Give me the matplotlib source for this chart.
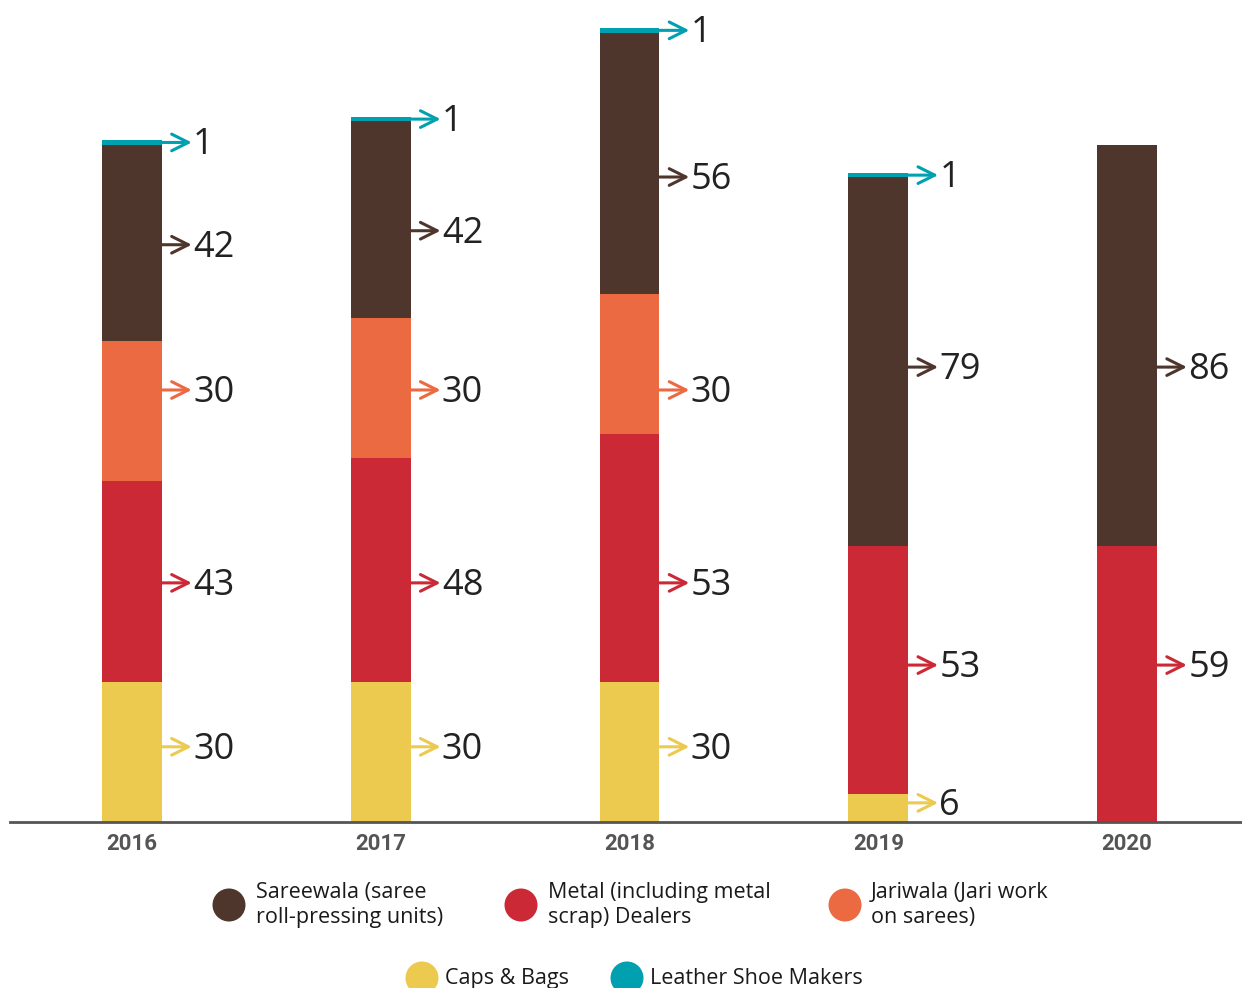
import matplotlib.pyplot as plt
from matplotlib.patches import Circle
import numpy as np

# data
years = ['2016', '2017', '2018', '2019', '2020']
caps = [30, 30, 30, 6, 0]
metal = [43, 48, 53, 53, 59]
jari = [30, 30, 30, 0, 0]
saree = [42, 42, 56, 79, 86]
leather = [1, 1, 1, 1, 0]

# where the value labels sit (data units), the chart lines them up in rows
caps_lab = [16.1, 16.1, 16.1, 4.1, 0]
metal_lab = [51.2, 51.2, 51.2, 33.6, 33.6]
jari_lab = [92.5, 92.5, 92.5, 0, 0]
saree_lab = [123.6, 126.6, 138.1, 97.4, 97.4]

series = [
    ('Caps & Bags', caps, '#ECC94F', caps_lab),
    ('Metal', metal, '#CC2936', metal_lab),
    ('Jariwala', jari, '#EC6A42', jari_lab),
    ('Sareewala', saree, '#4F362C', saree_lab),
    ('Leather Shoe Makers', leather, '#00A0B0', None),
]

fig = plt.figure(figsize=(12.42, 9.88), dpi=100)
ax = fig.add_axes([10 / 1242, 1 - 822 / 988, 1 - 10 / 1242, 822 / 988])

x = np.arange(len(years))
w = 0.241
bottom = np.zeros(len(years))
for name, vals, col, lab in series:
    vals = np.array(vals, dtype=float)
    ax.bar(x, vals, w, bottom=bottom, color=col, linewidth=0)
    for i, v in enumerate(vals):
        if v == 0:
            continue
        y = lab[i] if lab is not None else bottom[i] + v / 2
        x0 = x[i] + w / 2
        ax.annotate('', xy=(x0 + 0.12, y), xytext=(x0, y),
                    arrowprops=dict(arrowstyle='->', color=col, lw=2.2,
                                    mutation_scale=30, shrinkA=0, shrinkB=0))
        ax.text(x0 + 0.125, y - 0.6, str(int(v)), fontsize=26, family='Open Sans',
                color='#222222', va='center', ha='left')
    bottom += vals

ax.set_xlim(-0.49, 4.462)
ax.set_ylim(0, 176)
ax.set_yticks([])
ax.set_xticks(x)
ax.set_xticklabels(years, fontsize=16, family='Roboto', fontweight='bold', color='#555555')
ax.tick_params(axis='x', length=0, pad=8)
for s in ['top', 'right', 'left']:
    ax.spines[s].set_visible(False)
ax.spines['bottom'].set_color('#555555')
ax.spines['bottom'].set_linewidth(2)

# legend drawn in pixel coordinates
lax = fig.add_axes([0, 0, 1, 1], zorder=-1)
lax.set_xlim(0, 1242)
lax.set_ylim(988, 0)
lax.axis('off')
legend_pos = [
    (229, 905, 256, 'Sareewala (saree\nroll-pressing units)', '#4F362C'),
    (521, 905, 548, 'Metal (including metal\nscrap) Dealers', '#CC2936'),
    (845, 905, 871, 'Jariwala (Jari work\non sarees)', '#EC6A42'),
    (422, 978, 445, 'Caps & Bags', '#ECC94F'),
    (627, 978, 650, 'Leather Shoe Makers', '#00A0B0'),
]
for cx, cy, tx, label, col in legend_pos:
    lax.add_patch(Circle((cx, cy), 16.5, color=col, lw=0))
    lax.text(tx, cy, label, fontsize=15.5, family='Open Sans', color='#1a1a1a',
             va='center', ha='left', linespacing=1.2)

fig.savefig('out.png', dpi=100)
